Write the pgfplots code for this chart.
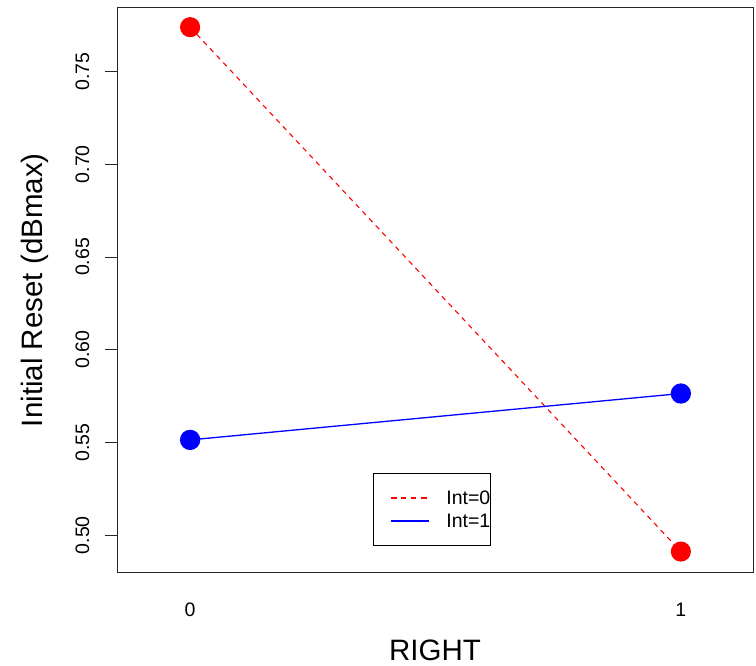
\documentclass[border=0pt]{standalone}
\usepackage{fontspec}
\setmainfont{Liberation Sans}
\usepackage{pgfplots}
\pgfplotsset{compat=1.18}
\begin{document}
\begin{tikzpicture}
\useasboundingbox (0,0) rectangle (756pt,665pt);
\begin{axis}[
  at={(117pt,92.3pt)}, anchor=south west,
  scale only axis, width=636pt, height=565pt,
  xmin=-0.149, xmax=1.147, ymin=0.4798, ymax=0.7844,
  axis line style={line width=0.8pt, black!85},
  xtick={0,1}, xticklabels={0,1},
  ytick={0.50,0.55,0.60,0.65,0.70,0.75},
  xtick pos=bottom, ytick pos=left,
  tick align=outside,
  major tick length=12pt,
  xtick style={draw=none},
  ytick style={line width=0.8pt, black!85},
  /pgf/number format/assume math mode=true,
  yticklabel style={/pgf/number format/fixed, /pgf/number format/fixed zerofill, /pgf/number format/precision=2, rotate=90, anchor=base, yshift=16pt},
  ticklabel style={font=\fontsize{19.5}{23}\selectfont},
  xticklabel style={anchor=base, yshift=-31.3pt},
  xlabel={RIGHT}, ylabel={Initial Reset (dBmax)},
  label style={font=\fontsize{29.5}{34}\selectfont},
  xlabel style={at={(axis description cs:0.5,-0.155)}, anchor=base},
  ylabel style={at={(axis description cs:-0.1164,0.5)}, rotate=0, anchor=base},
  legend style={at={(0.402,0.177)}, anchor=north west, draw=black, line width=0.8pt,
    font=\fontsize{19.5}{23}\selectfont, inner xsep=0pt, inner ysep=13pt, row sep=0pt,
    nodes={inner sep=0pt, text height=18pt, text depth=5pt}},
  legend cell align=left,
]
\addplot[red, dash pattern=on 5pt off 4.7pt, line width=1.1pt, mark=*, mark size=9.5pt, mark options={solid, fill=red, draw=red},
  legend image code/.code={\path (-17.7pt,0pt) (54.3pt,0pt);
    \fill[fill=red, draw=red, solid, line width=0.7pt] (0.35pt,-0.5pt) rectangle (4.65pt,0.5pt);
    \fill[fill=red, draw=red, solid, line width=0.7pt] (10.05pt,-0.5pt) rectangle (14.35pt,0.5pt);
    \fill[fill=red, draw=red, solid, line width=0.7pt] (19.75pt,-0.5pt) rectangle (24.05pt,0.5pt);
    \fill[fill=red, draw=red, solid, line width=0.7pt] (29.45pt,-0.5pt) rectangle (34.65pt,0.5pt);}] coordinates {(0,0.7739) (1,0.4912)};
\addlegendentry{Int=0\hspace{17pt}}
\addplot[blue, line width=1.3pt, mark=*, mark size=9.5pt, mark options={solid, fill=blue, draw=blue},
  legend image code/.code={\path (-17.7pt,0pt) (54.3pt,0pt);
    \fill[fill=blue, draw=blue, line width=0.7pt] (0.35pt,-0.5pt) rectangle (36.65pt,0.5pt);}] coordinates {(0,0.5514) (1,0.5764)};
\addlegendentry{Int=1\hspace{17pt}}
\end{axis}
\end{tikzpicture}
\end{document}
